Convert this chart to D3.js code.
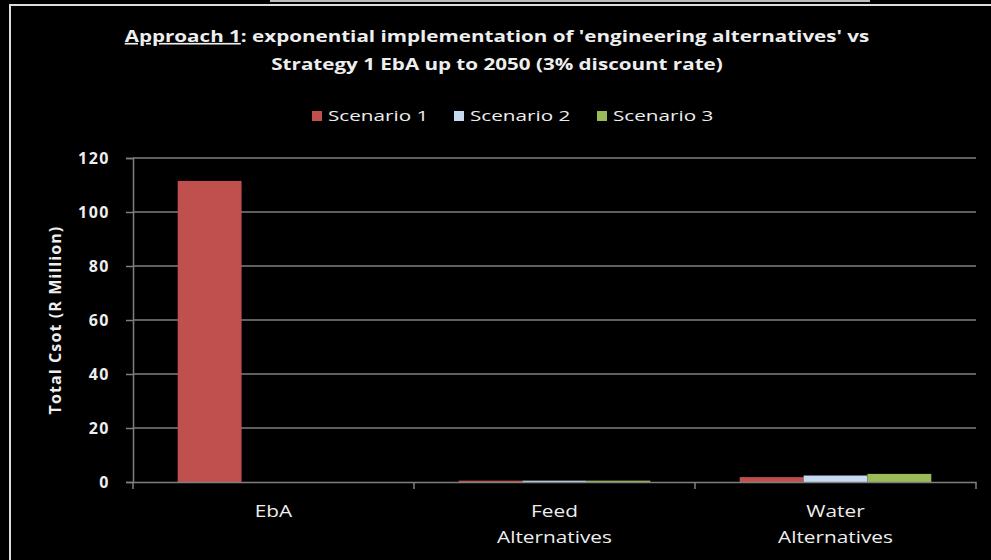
<!DOCTYPE html>
<html><head><meta charset="utf-8">
<script src="https://cdn.jsdelivr.net/npm/d3@7"></script>
<style>html,body{margin:0;padding:0;background:#000;}svg{display:block;}</style>
</head><body>
<script>
const categories = [["EbA"], ["Feed", "Alternatives"], ["Water", "Alternatives"]];
const seriesNames = ["Scenario 1", "Scenario 2", "Scenario 3"];
const scenario1 = [111.5, 0.5, 1.8];
const scenario2 = [0, 0.5, 2.4];
const scenario3 = [0, 0.5, 3.0];
const yTicks = [0, 20, 40, 60, 80, 100, 120];
const colors = ["#C0504D", "#C6D9F1", "#9BBB59"];
const series = [scenario1, scenario2, scenario3];

const W = 991, H = 560;
const svg = d3.select("body").append("svg").attr("width", W).attr("height", H);
svg.append("rect").attr("width", W).attr("height", H).attr("fill", "#000");

// frame lines
svg.append("rect").attr("x", 270).attr("y", 0).attr("width", 600).attr("height", 2).attr("fill", "#bbb");
svg.append("rect").attr("x", 9).attr("y", 4).attr("width", W - 9).attr("height", 2).attr("fill", "#ddd");
svg.append("rect").attr("x", 9).attr("y", 4).attr("width", 2).attr("height", H - 4).attr("fill", "#ddd");

const font = "'Open Sans', sans-serif";
const margin = {left: 133, right: 15, top: 158, bottom: 78};
const x0 = d3.scaleBand().domain(categories.map((c, i) => i)).range([margin.left, W - margin.right]).paddingInner(0).paddingOuter(0);
const x1 = d3.scaleBand().domain(seriesNames).range([0, x0.bandwidth()]).paddingOuter(0.7).paddingInner(0);
const y = d3.scaleLinear().domain([0, 120]).range([H - margin.bottom, margin.top]);

// gridlines
svg.append("g").selectAll("line").data(yTicks.filter(d => d > 0)).join("line")
  .attr("x1", margin.left).attr("x2", W - margin.right)
  .attr("y1", d => y(d)).attr("y2", d => y(d))
  .attr("stroke", "#7f7f7f").attr("stroke-width", 1.5);

// y axis
const yAxis = svg.append("g").attr("transform", `translate(${margin.left},0)`)
  .call(d3.axisLeft(y).tickValues(yTicks).tickSize(7).tickPadding(16));
yAxis.select(".domain").attr("stroke", "#7f7f7f").attr("stroke-width", 1.5);
yAxis.selectAll(".tick line").attr("stroke", "#7f7f7f").attr("stroke-width", 1.5);
yAxis.selectAll("text").attr("fill", "#eee").attr("font-family", font).attr("font-weight", "bold")
  .attr("font-size", 16).attr("letter-spacing", 1.5);

// bars
const groups = svg.append("g").selectAll("g").data(categories.map((c, i) => i)).join("g")
  .attr("transform", i => `translate(${x0(i)},0)`);
groups.selectAll("rect").data(i => series.map((s, k) => ({k, v: s[i]}))).join("rect")
  .attr("x", d => x1(seriesNames[d.k])).attr("width", x1.bandwidth())
  .attr("y", d => y(d.v)).attr("height", d => y(0) - y(d.v))
  .attr("fill", d => colors[d.k]);

// x axis
const xAxis = svg.append("g").attr("transform", `translate(0,${y(0)})`)
  .call(d3.axisBottom(x0).tickSize(0).tickFormat(""));
xAxis.select(".domain").attr("stroke", "#7f7f7f").attr("stroke-width", 1.5);
const bounds = [...categories.map((c, i) => x0(i)), x0(categories.length - 1) + x0.bandwidth()];
svg.append("g").selectAll("line").data(bounds).join("line")
  .attr("x1", d => d).attr("x2", d => d).attr("y1", y(0)).attr("y2", y(0) + 7)
  .attr("stroke", "#7f7f7f").attr("stroke-width", 1.5);

// category labels
categories.forEach((lines, i) => {
  const cx = x0(i) + x0.bandwidth() / 2;
  lines.forEach((line, j) => {
    svg.append("text").attr("transform", `translate(${cx},${517 + j * 26}) scale(1.3,1)`)
      .attr("text-anchor", "middle").attr("fill", "#eee").attr("font-family", font).attr("font-size", 16)
      .text(line);
  });
});

// y label
svg.append("text").attr("transform", `translate(61,320) rotate(-90)`).attr("text-anchor", "middle")
  .attr("fill", "#eee").attr("font-family", font).attr("font-weight", "bold").attr("font-size", 16)
  .attr("letter-spacing", 1.1)
  .text("Total Csot (R Million)");

// title
const t1 = svg.append("text").attr("transform", "translate(497,42) scale(1.25,1)").attr("text-anchor", "middle")
  .attr("fill", "#eee").attr("font-family", font).attr("font-weight", "bold").attr("font-size", 16.5);
t1.append("tspan").attr("text-decoration", "underline").text("Approach 1");
t1.append("tspan").text(": exponential implementation of 'engineering alternatives' vs");
svg.append("text").attr("transform", "translate(497,70) scale(1.25,1)").attr("text-anchor", "middle")
  .attr("fill", "#eee").attr("font-family", font).attr("font-weight", "bold").attr("font-size", 16.5)
  .text("Strategy 1 EbA up to 2050 (3% discount rate)");

// legend
const legendX = [312, 454, 597];
const lg = svg.append("g").selectAll("g").data(seriesNames).join("g")
  .attr("transform", (d, i) => `translate(${legendX[i]},111)`);
lg.append("rect").attr("width", 10).attr("height", 10).attr("fill", (d, i) => colors[i]);
lg.append("text").attr("transform", "translate(16,10) scale(1.38,1)").attr("fill", "#eee").attr("font-family", font)
  .attr("font-size", 15).text(d => d);
</script>
</body></html>
